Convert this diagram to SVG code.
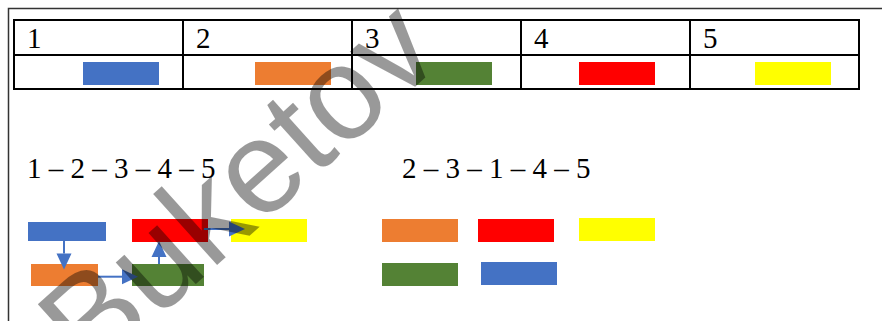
<svg xmlns="http://www.w3.org/2000/svg" width="882" height="321" viewBox="0 0 882 321">
<style>
.frame{fill:none;stroke:#333;stroke-width:1.5}
.tbl{fill:none;stroke:#000;stroke-width:2}
.num{font-family:"Liberation Serif","Times New Roman",serif;font-size:29px;fill:#000}
.blue{fill:#4472C4}.orange{fill:#ED7D31}.green{fill:#548235}.red{fill:#FF0000}.yellow{fill:#FFFF00}
.conn{stroke:#4472C4;stroke-width:2;fill:none;marker-end:url(#ah)}
.wm{font-family:"Liberation Sans",Arial,sans-serif;font-size:132px;fill:#000;fill-opacity:0.4}
</style>
<defs>
<marker id="ah" markerUnits="userSpaceOnUse" markerWidth="16" markerHeight="16" refX="0" refY="7.5" orient="auto" overflow="visible">
<path d="M0,0 L16,7.5 L0,15 Z" fill="#4472C4"/>
</marker>
</defs>
<rect width="882" height="321" fill="#fff"/>
<polyline class="frame" points="8.5,321 8.5,8.5 882,8.5"/>
<g id="table">
<rect class="tbl" x="14" y="20" width="845" height="69"/>
<line class="tbl" x1="14" y1="55" x2="859" y2="55"/>
<line class="tbl" x1="183" y1="20" x2="183" y2="89"/>
<line class="tbl" x1="352" y1="20" x2="352" y2="89"/>
<line class="tbl" x1="521" y1="20" x2="521" y2="89"/>
<line class="tbl" x1="690" y1="20" x2="690" y2="89"/>
<text class="num" x="27" y="47.5">1</text>
<text class="num" x="196" y="47.5">2</text>
<text class="num" x="365" y="47.5">3</text>
<text class="num" x="534" y="47.5">4</text>
<text class="num" x="703" y="47.5">5</text>
<rect class="blue" x="83" y="62" width="76" height="23"/>
<rect class="orange" x="255" y="62" width="76" height="23"/>
<rect class="green" x="416" y="62" width="76" height="23"/>
<rect class="red" x="579" y="62" width="76" height="23"/>
<rect class="yellow" x="755" y="62" width="76" height="23"/>
</g>
<text id="seq1" class="num" x="27" y="177.5">1 – 2 – 3 – 4 – 5</text>
<text id="seq2" class="num" x="402" y="177.5">2 – 3 – 1 – 4 – 5</text>
<g id="n1"><rect class="blue" x="28" y="222" width="78" height="19"/></g>
<g id="n2"><rect class="orange" x="31" y="264" width="67" height="22"/></g>
<g id="n3"><rect class="green" x="132" y="264" width="72" height="22"/></g>
<g id="n4"><rect class="red" x="132" y="219" width="76" height="23"/></g>
<g id="n5"><rect class="yellow" x="231" y="219" width="76" height="23"/></g>
<g id="connectors">
<line class="conn" x1="64" y1="241" x2="64" y2="253.5"/>
<line class="conn" x1="98" y1="276.7" x2="122" y2="276.7"/>
<line class="conn" x1="159" y1="264" x2="159" y2="257"/>
<line class="conn" x1="204" y1="229" x2="229" y2="229"/>
</g>
<g id="m2" transform="translate(0,0)">
<rect class="orange" x="382" y="219" width="76" height="23"/>
<rect class="red" x="478" y="219" width="76" height="23"/>
<rect class="yellow" x="579" y="218" width="76" height="23"/>
<rect class="green" x="382" y="263" width="76" height="23"/>
<rect class="blue" x="481" y="262" width="76" height="23"/>
</g>
<text class="wm" transform="translate(90.5,379) rotate(-42)">Buketov</text>
</svg>
